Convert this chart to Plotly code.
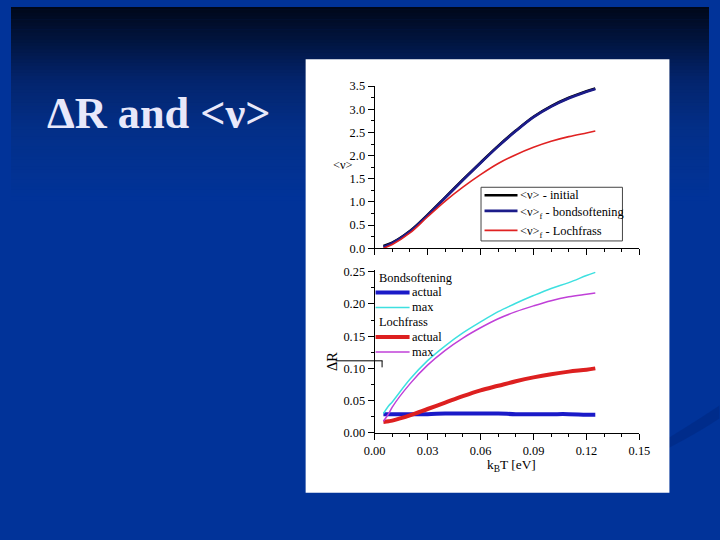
import numpy as np
import plotly.graph_objects as go

# ---------------- data ----------------
x_top = [0.005, 0.01, 0.02, 0.03, 0.04, 0.05, 0.06, 0.07, 0.08, 0.09, 0.10, 0.11, 0.12, 0.125]
nu_initial = [0.05, 0.12, 0.37, 0.72, 1.10, 1.48, 1.85, 2.21, 2.54, 2.84, 3.07, 3.25, 3.39, 3.45]
nu_bond    = [0.03, 0.11, 0.36, 0.71, 1.09, 1.47, 1.84, 2.20, 2.53, 2.83, 3.06, 3.24, 3.38, 3.44]
nu_loch    = [0.00, 0.08, 0.33, 0.68, 1.02, 1.32, 1.59, 1.83, 2.02, 2.18, 2.31, 2.41, 2.49, 2.53]

x_bot = [0.005, 0.008, 0.01, 0.02, 0.03, 0.04, 0.05, 0.06, 0.07, 0.08, 0.09, 0.10, 0.11, 0.12, 0.125]
dr_bond_actual = [0.029, 0.029, 0.029, 0.029, 0.029, 0.030, 0.030, 0.030, 0.030, 0.029, 0.029, 0.029, 0.029, 0.028, 0.028]
dr_bond_max    = [0.030, 0.042, 0.048, 0.083, 0.112, 0.135, 0.155, 0.172, 0.188, 0.201, 0.213, 0.224, 0.233, 0.244, 0.249]
dr_loch_actual = [0.017, 0.018, 0.019, 0.027, 0.037, 0.047, 0.057, 0.066, 0.073, 0.080, 0.086, 0.091, 0.095, 0.098, 0.100]
dr_loch_max    = [0.018, 0.030, 0.040, 0.076, 0.105, 0.128, 0.147, 0.163, 0.177, 0.188, 0.197, 0.205, 0.211, 0.215, 0.217]

top_labels = ["&lt;ν&gt; - initial", "&lt;ν&gt;<sub>f</sub> - bondsoftening", "&lt;ν&gt;<sub>f</sub> - Lochfrass"]
bot_group_titles = ["Bondsoftening", "Lochfrass"]
bot_labels = ["actual", "max", "actual", "max"]

x_ticks = [0.00, 0.03, 0.06, 0.09, 0.12, 0.15]
x_tick_labels = ["0.00", "0.03", "0.06", "0.09", "0.12", "0.15"]
y_top_ticks = [0.0, 0.5, 1.0, 1.5, 2.0, 2.5, 3.0, 3.5]
y_bot_ticks = [0.00, 0.05, 0.10, 0.15, 0.20, 0.25]

W, H = 720, 540
SERIF = "Liberation Serif"
# the captured page is shown slightly scaled/offset; map target-picture pixels to figure paper
SX, OX, SY, OY = 0.970, 11.2, 0.971, 7.8
FS = 1 / 0.97

def px(x):
    return ((x - OX) / SX) / W

def py(y):
    return 1 - ((y - OY) / SY) / H

def fs(s):
    return round(s * FS, 1)

top_styles = [dict(color="#000000", width=2.6), dict(color="#1c1c8a", width=2.6),
              dict(color="#e02222", width=1.6)]
bot_styles = [dict(color="#1a1ac8", width=4), dict(color="#3ee0e0", width=1.5),
              dict(color="#dd2020", width=4), dict(color="#c040d8", width=1.5)]

fig = go.Figure()
for yv, st, nm in zip([nu_initial, nu_bond, nu_loch], top_styles, top_labels):
    fig.add_trace(go.Scatter(x=x_top, y=yv, mode="lines", name=nm,
                             line=dict(shape="spline", **st), xaxis="x", yaxis="y"))
for yv, st, nm in zip([dr_bond_actual, dr_bond_max, dr_loch_actual, dr_loch_max], bot_styles, bot_labels):
    fig.add_trace(go.Scatter(x=x_bot, y=yv, mode="lines", name=nm,
                             line=dict(shape="spline", **st), xaxis="x2", yaxis="y2"))

axis_common = dict(showgrid=False, zeroline=False, showline=True, linecolor="#000", linewidth=1,
                   ticks="outside", tickcolor="#000", ticklen=6, tickwidth=1,
                   tickfont=dict(family=SERIF, size=fs(12), color="#000"))

x_dom = [px(375), px(640)]
fig.update_layout(
    xaxis=dict(domain=x_dom, range=[0, 0.15], tickvals=x_ticks, showticklabels=False,
               minor=dict(dtick=0.01, tick0=0, ticks="outside", ticklen=3, tickcolor="#000"),
               anchor="y", **axis_common),
    yaxis=dict(domain=[py(248.3), py(86.7)], range=[0, 3.5], tickvals=y_top_ticks,
               ticktext=[f"{v:.1f}" for v in y_top_ticks],
               minor=dict(dtick=0.25, tick0=0, ticks="outside", ticklen=3, tickcolor="#000"),
               anchor="x", **axis_common),
    xaxis2=dict(domain=x_dom, range=[0, 0.15], tickvals=x_ticks, ticktext=x_tick_labels,
                minor=dict(dtick=0.01, tick0=0, ticks="outside", ticklen=3, tickcolor="#000"),
                anchor="y2", **axis_common),
    yaxis2=dict(domain=[py(432.3), py(270)], range=[0, 0.2526], tickvals=y_bot_ticks,
                ticktext=[f"{v:.2f}" for v in y_bot_ticks],
                minor=dict(dtick=0.025, tick0=0, ticks="outside", ticklen=3, tickcolor="#000"),
                anchor="x2", **axis_common),
    margin=dict(l=0, r=0, t=0, b=0),
    paper_bgcolor="#013399", plot_bgcolor="rgba(0,0,0,0)",
    showlegend=False,
)

# background gradient bands
stops_y = [0, 40, 80, 130, 200, 540]
stops_c = [(0, 4, 15), (1, 20, 61), (3, 36, 108), (3, 47, 136), (1, 51, 153), (3, 55, 151)]
shapes = []
n_bands = 60
for i in range(n_bands):
    y0 = 200 * i / n_bands
    y1 = 200 * (i + 1) / n_bands + 0.6
    ym = (y0 + y1) / 2
    c = [int(round(np.interp(ym, stops_y, [s[k] for s in stops_c]))) for k in range(3)]
    shapes.append(dict(type="rect", xref="paper", yref="paper", x0=0, x1=1,
                       y0=min(1, py(y1)), y1=min(1, py(y0)), fillcolor=f"rgb({c[0]},{c[1]},{c[2]})",
                       line=dict(width=0), layer="below"))
# subtle swoosh at lower right
shapes.append(dict(type="path", xref="paper", yref="paper",
                   path=f"M {px(640)},{py(455)} Q {px(690)},{py(425)} {px(720)},{py(405)} "
                        f"L {px(720)},{py(418)} Q {px(690)},{py(438)} {px(640)},{py(462)} Z",
                   fillcolor="rgba(0,30,110,0.3)", line=dict(width=0), layer="below"))
# white picture panel
shapes.append(dict(type="rect", xref="paper", yref="paper", x0=px(306), x1=px(670),
                   y0=py(492), y1=py(60), fillcolor="#ffffff", line=dict(width=0), layer="below"))
# stray line near the ΔR label
shapes.append(dict(type="line", xref="paper", yref="paper", x0=px(336), x1=px(383),
                   y0=py(360.5), y1=py(360.5), line=dict(color="#000", width=1)))
shapes.append(dict(type="line", xref="paper", yref="paper", x0=px(382.5), x1=px(382.5),
                   y0=py(360.5), y1=py(367), line=dict(color="#000", width=1)))

annotations = [
    dict(text="<b>ΔR and &lt;ν&gt;</b>", x=px(159), y=py(114), xref="paper", yref="paper",
         showarrow=False, font=dict(family=SERIF, size=fs(43), color="#e8e8fa"),
         xanchor="center", yanchor="middle"),
    dict(text="&lt;ν&gt;", x=px(343), y=py(165), xref="paper", yref="paper", showarrow=False,
         font=dict(family=SERIF, size=fs(12), color="#000"), xanchor="center", yanchor="middle"),
    dict(text="ΔR", x=px(333), y=py(361), xref="paper", yref="paper", showarrow=False,
         textangle=-90, font=dict(family=SERIF, size=fs(14), color="#000"),
         xanchor="center", yanchor="middle"),
    dict(text="k<sub>B</sub>T [eV]", x=px(512), y=py(465), xref="paper", yref="paper",
         showarrow=False, font=dict(family=SERIF, size=fs(13), color="#000"),
         xanchor="center", yanchor="middle"),
]

# ---- top legend (boxed) ----
shapes.append(dict(type="rect", xref="paper", yref="paper", x0=px(481.5), x1=px(623),
                   y0=py(241), y1=py(187.5), fillcolor="#ffffff",
                   line=dict(color="#444", width=1)))
for i, (st, lab) in enumerate(zip(top_styles, top_labels)):
    yy = [195.5, 211, 230.5][i]
    shapes.append(dict(type="line", xref="paper", yref="paper", x0=px(485), x1=px(518),
                       y0=py(yy), y1=py(yy), line=st))
    annotations.append(dict(text=lab, x=px(518.5), y=py(yy + (2 if i else 0)), xref="paper", yref="paper",
                            showarrow=False, xanchor="left", yanchor="middle",
                            font=dict(family=SERIF, size=fs(12), color="#000")))

# ---- bottom legend (no box) ----
rows = [277.5, 292.3, 307.3, 321.7, 336.7, 351.7]
annotations.append(dict(text=bot_group_titles[0], x=px(377.5), y=py(rows[0]), xref="paper", yref="paper",
                        showarrow=False, xanchor="left", yanchor="middle",
                        font=dict(family=SERIF, size=fs(12), color="#000")))
annotations.append(dict(text=bot_group_titles[1], x=px(377.5), y=py(rows[3]), xref="paper", yref="paper",
                        showarrow=False, xanchor="left", yanchor="middle",
                        font=dict(family=SERIF, size=fs(12), color="#000")))
for yy, st, lab in zip([rows[1], rows[2], rows[4], rows[5]], bot_styles, bot_labels):
    shapes.append(dict(type="line", xref="paper", yref="paper", x0=px(376), x1=px(410),
                       y0=py(yy), y1=py(yy), line=st))
    annotations.append(dict(text=lab, x=px(410.5), y=py(yy), xref="paper", yref="paper",
                            showarrow=False, xanchor="left", yanchor="middle",
                            font=dict(family=SERIF, size=fs(12), color="#000")))

fig.update_layout(shapes=shapes, annotations=annotations)

fig.write_html("out.html",
               config={"displayModeBar": False},
               default_width="720px; position:absolute; left:0px; top:0px",
               default_height="540px",
               post_script="document.body.style.margin='0';document.body.style.overflow='hidden';"
                           "document.documentElement.style.background="
                           "'linear-gradient(#00040f, #032f88 130px, #013399 200px, #033797)';"
                           "document.body.style.background='transparent';")
